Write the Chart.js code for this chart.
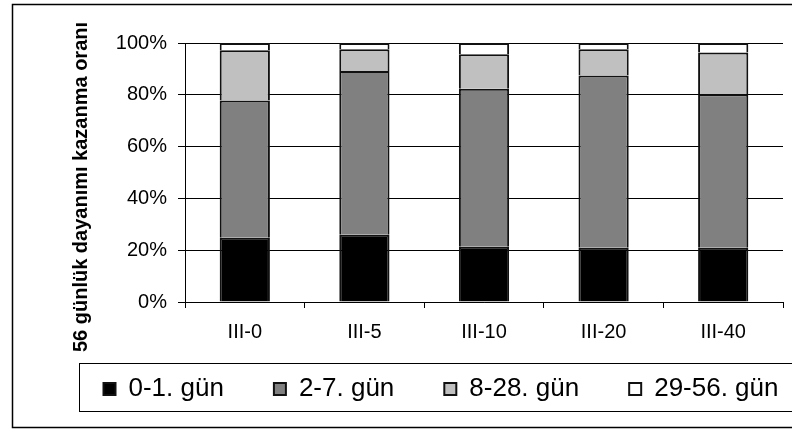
<!DOCTYPE html>
<html>
<head>
<meta charset="utf-8">
<script src="https://cdn.jsdelivr.net/npm/chart.js@4"></script>
<style>
  html, body { margin: 0; padding: 0; background: #fff; overflow: hidden; }
  #wrap { width: 792px; height: 430px; overflow: hidden; }
</style>
</head>
<body>
<div id="wrap"><canvas id="chart" width="860" height="430"></canvas></div>
<script>
// Data (share of 56-day strength, %)
const categories = ["III-0", "III-5", "III-10", "III-20", "III-40"];
const day0to1 = [24.8, 26.0, 21.3, 20.9, 20.9];
const day2to7 = [53.0, 63.2, 61.0, 66.6, 59.3];
const day8to28 = [19.4, 8.4, 13.4, 10.1, 16.1];
const day29to56 = [2.8, 2.4, 4.3, 2.4, 3.7];
const yTicks = [0, 20, 40, 60, 80, 100];

const seriesNames = ["0-1. gün", "2-7. gün", "8-28. gün", "29-56. gün"];
const fills = ["#000000", "#808080", "#c0c0c0", "#ffffff"];
const yTitle = "56 günlük dayanımı kazanma oranı";
const FONT = "'Liberation Sans', Arial, sans-serif";

// frame, legend box and rotated axis title
const decor = {
  id: "decor",
  afterLayout(chart) {
    // legend row sits closer to the axis than the layout allows
    const lg = chart.legend;
    const dy = lg.top - (chart.chartArea.bottom + 24);
    lg.top -= dy;
    lg.bottom -= dy;
  },
  beforeDraw(chart) {
    const c = chart.ctx;
    c.save();
    c.fillStyle = "#fff";
    c.fillRect(0, 0, chart.width, chart.height);
    c.restore();
  },
  afterDraw(chart) {
    const c = chart.ctx;
    c.save();
    c.strokeStyle = "#000";
    c.lineWidth = 1.5;
    c.strokeRect(12.5, 4.5, 840, 423);
    c.lineWidth = 1;
    c.strokeRect(79.5, 363.5, 760, 48);
    c.translate(81, 187);
    c.rotate(-Math.PI / 2);
    c.fillStyle = "#000";
    c.font = "bold 20px " + FONT;
    c.textAlign = "center";
    c.textBaseline = "middle";
    c.fillText(yTitle, 0, 0);
    c.restore();
  }
};

const ctx = document.getElementById("chart").getContext("2d");
const chart = new Chart(ctx, {
  type: "bar",
  data: {
    labels: categories,
    datasets: [day0to1, day2to7, day8to28, day29to56].map((d, i) => ({
      label: seriesNames[i],
      data: d,
      backgroundColor: fills[i],
      borderColor: "#111",
      borderWidth: 2,
      barPercentage: 0.42,
      categoryPercentage: 1
    }))
  },
  options: {
    responsive: false,
    animation: false,
    devicePixelRatio: 1,
    layout: { padding: { left: 53.5, right: 10, top: 43, bottom: 0 } },
    plugins: {
      tooltip: { enabled: false },
      legend: {
        position: "bottom",
        align: "start",
        labels: {
          color: "#000",
          font: { family: FONT, size: 26 },
          boxWidth: 12,
          boxHeight: 12,
          padding: 50
        }
      }
    },
    scales: {
      x: {
        stacked: true,
        afterFit: s => { s.height = 42; },
        grid: {
          offset: true,
          drawOnChartArea: true,
          color: c => (c.index === categories.length ? "#808080" : "rgba(0,0,0,0)"),
          tickColor: "#000",
          tickLength: 6
        },
        border: { display: true, color: "#000", width: 1 },
        ticks: { color: "#000", font: { family: FONT, size: 20 }, padding: 12 }
      },
      y: {
        stacked: true,
        min: 0,
        max: 100,
        afterFit: s => { s.width = 131.5; },
        afterBuildTicks: s => { s.ticks = yTicks.map(v => ({ value: v })); },
        grid: { color: "#000", tickColor: "#000", tickLength: 7 },
        border: { display: true, color: "#000", width: 1 },
        ticks: {
          color: "#000",
          font: { family: FONT, size: 20 },
          padding: 11,
          callback: v => v + "%"
        }
      },
      // empty right box so the legend can run past the plot edge
      y2: {
        position: "right",
        afterFit: s => { s.width = 67; },
        grid: { display: false },
        border: { display: false },
        ticks: { display: false }
      }
    }
  },
  plugins: [decor]
});
</script>
</body>
</html>
